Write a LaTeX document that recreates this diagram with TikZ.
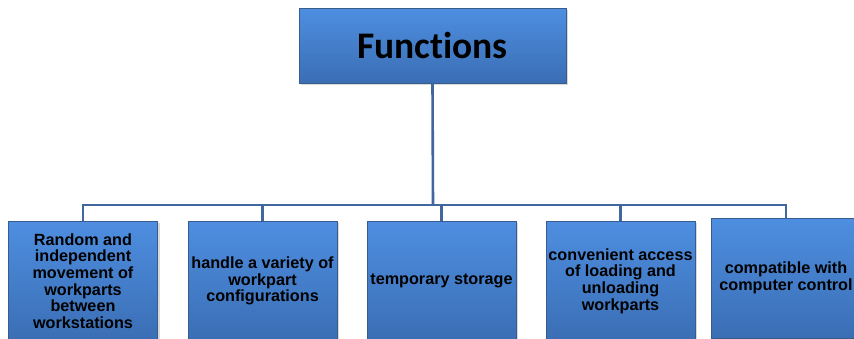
\documentclass[tikz,border=0pt]{standalone}
\usepackage{fontspec}
\setmainfont{Liberation Sans}
\newfontfamily\titlefont[Ligatures=NoCommon]{Carlito}
\usetikzlibrary{shadows}
\definecolor{boxtop}{RGB}{78,142,224}
\definecolor{boxbot}{RGB}{58,110,180}
\definecolor{boxline}{RGB}{56,92,140}
\definecolor{linkblue}{RGB}{64,104,158}

\begin{document}
\begin{tikzpicture}[x=1pt,y=-1pt,
  fnbox/.style={draw=boxline,line width=0.8pt,top color=boxtop,bottom color=boxbot,
    drop shadow={shadow xshift=2pt,shadow yshift=-2pt,opacity=0.3},
    inner sep=2pt,align=center},
  subbox/.style={fnbox,minimum width=149pt,minimum height=120pt,
    font=\bfseries\fontsize{16.2}{16.6}\selectfont},
  link/.style={draw=linkblue,line width=2.6pt}]
  \path[use as bounding box,fill=white] (0,0) rectangle (854,338);
  % top box
  \node[fnbox,minimum width=267pt,minimum height=75pt] (fn) at (432.5,45.5)
    {\titlefont\bfseries\fontsize{37.5}{40}\selectfont Functions};
  % function boxes
  \node[subbox] (b1) at (83,281) {Random and\\independent\\movement of\\workparts\\between\\workstations};
  \node[subbox] (b2) at (262.5,281) {handle a variety of\\workpart\\configurations};
  \node[subbox] (b3) at (441.5,281) {temporary storage};
  \node[subbox] (b4) at (620.5,281) {convenient access\\of loading and\\unloading\\workparts};
  \node[subbox] (b5) at (786,278) {compatible with\\computer control};
  % connectors
  \coordinate (hub) at (433,205);
  \draw[link] (fn.south) -- (hub);
  \foreach \b in {b1,b2,b3,b4,b5}
    {\draw[link] (hub) -| (\b.north);}
\end{tikzpicture}
\end{document}
